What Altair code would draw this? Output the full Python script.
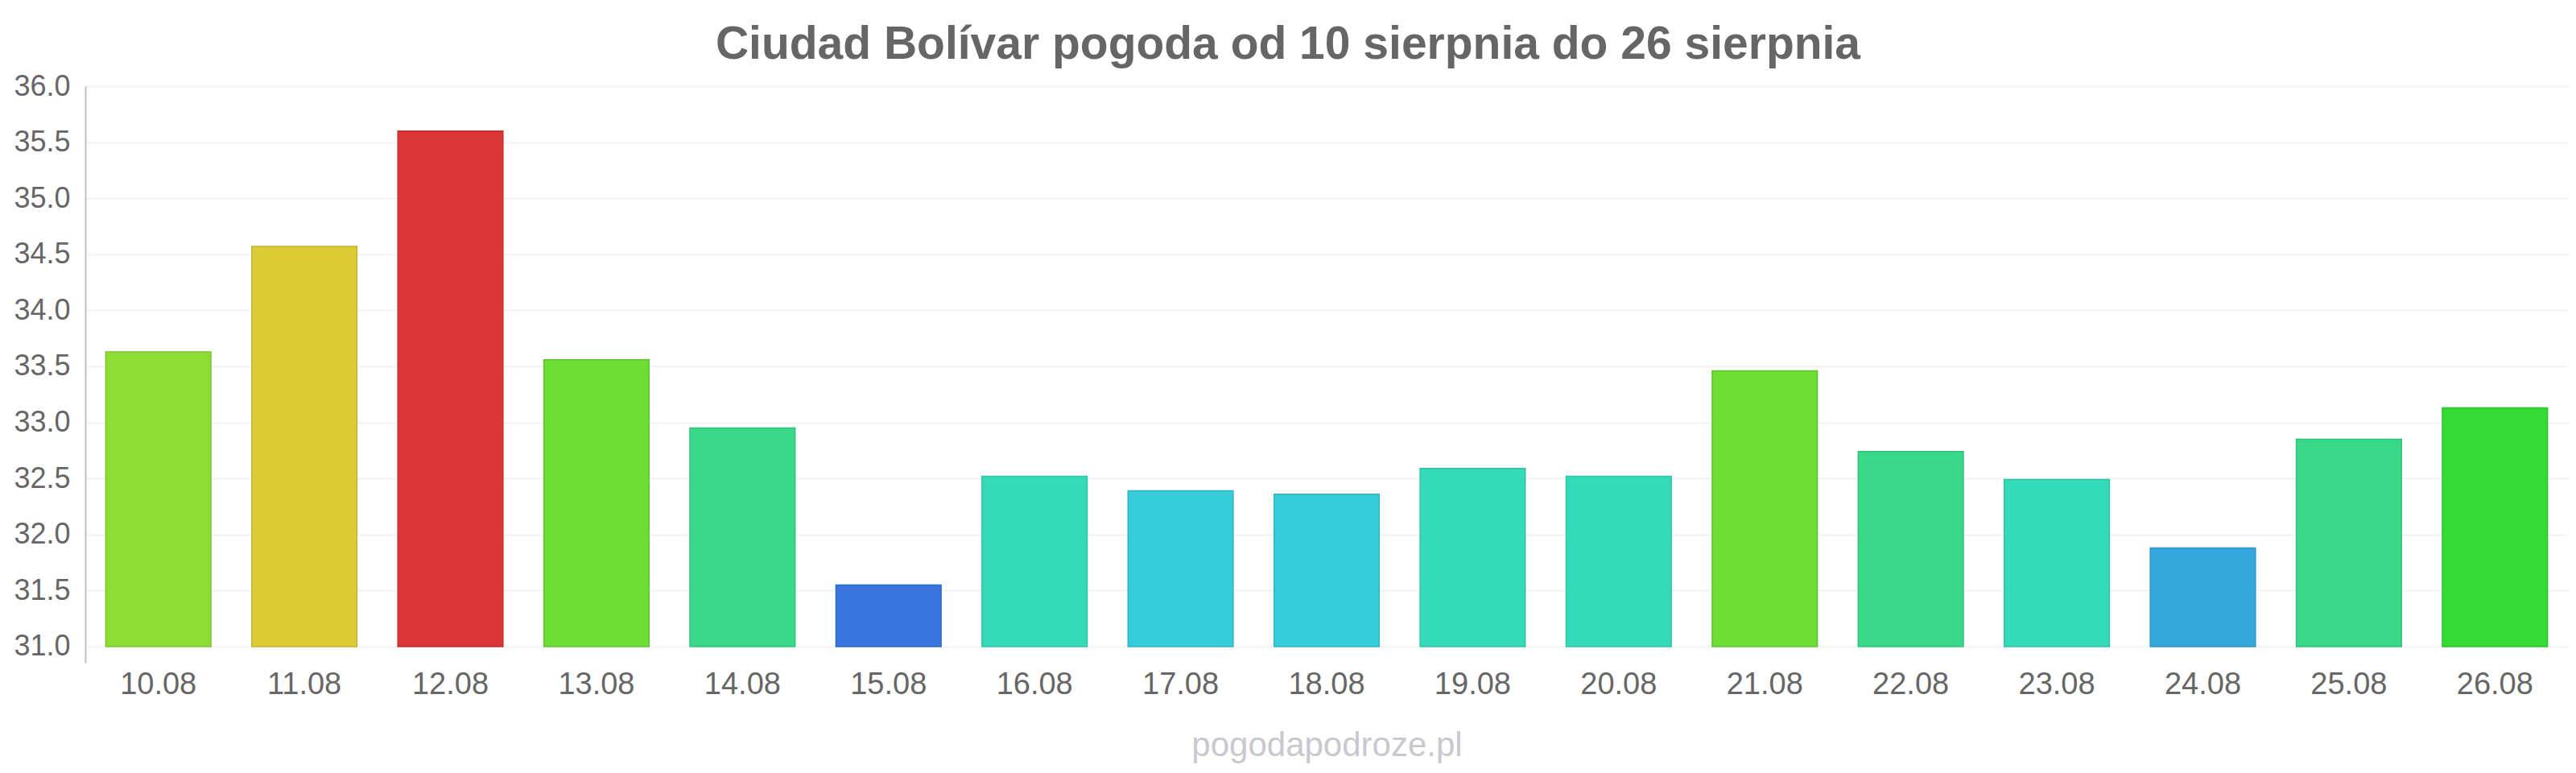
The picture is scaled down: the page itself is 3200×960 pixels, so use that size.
import altair as alt
import pandas as pd

dates = ["10.08", "11.08", "12.08", "13.08", "14.08", "15.08", "16.08", "17.08", "18.08",
         "19.08", "20.08", "21.08", "22.08", "23.08", "24.08", "25.08", "26.08"]
temps = [33.63, 34.57, 35.60, 33.56, 32.95, 31.55, 32.52, 32.39, 32.36,
         32.59, 32.52, 33.46, 32.74, 32.49, 31.88, 32.85, 33.13]
colors = ["#8ddd35", "#dbcc35", "#db3535", "#6bdd35", "#38da8a", "#3776db", "#35dbb8", "#35cdda", "#35cdda",
          "#35dbb8", "#35dbb8", "#6bdd35", "#38da8a", "#35dbb8", "#35a8db", "#38da8a", "#35db35"]
borders = ["#7cc42f", "#c2b42f", "#c22f2f", "#5ec42f", "#31c07a", "#3068c2", "#2fc2a3", "#2fb5c1", "#2fb5c1",
           "#2fc2a3", "#2fc2a3", "#5ec42f", "#31c07a", "#2fc2a3", "#2f95c2", "#31c07a", "#2fc22f"]
y_ticks = [31.0, 31.5, 32.0, 32.5, 33.0, 33.5, 34.0, 34.5, 35.0, 35.5, 36.0]
title_text = "Ciudad Bolívar pogoda od 10 sierpnia do 26 sierpnia"
watermark = "pogodapodroze.pl"

df = pd.DataFrame({"date": dates, "temp": temps})

bars = alt.Chart(df).mark_bar(strokeWidth=1.5).encode(
    x=alt.X("date:N", sort=dates,
            scale=alt.Scale(paddingInner=0.28, paddingOuter=0.14),
            axis=alt.Axis(title=watermark, labelAngle=0, domain=False, ticks=False, tickSize=0,
                          labelPadding=8, labelFontSize=38, labelColor="#666666", labelFont="Liberation Sans",
                          titleFont="Liberation Sans", titleFontSize=42, titleFontWeight="normal",
                          titleColor="#c8c8cf", titlePadding=36)),
    y=alt.Y("temp:Q", scale=alt.Scale(domain=[30.856, 36.0], nice=False, zero=False),
            axis=alt.Axis(title=None, values=y_ticks, format=".1f", ticks=False, tickSize=0,
                          labelPadding=19, labelFontSize=36, labelColor="#666666", labelFont="Liberation Sans",
                          domain=True, domainColor="#c0c0c0", domainWidth=2,
                          grid=True, gridColor="#f2f2f2", gridWidth=2)),
    y2=alt.datum(31.0),
    color=alt.Color("date:N", scale=alt.Scale(domain=dates, range=colors), legend=None),
    stroke=alt.Stroke("date:N", scale=alt.Scale(domain=dates, range=borders), legend=None),
)

chart = bars.properties(
    width=3084,
    height=716,
    autosize="none",
    background="white",
    padding={"left": 98, "top": 99, "right": 2, "bottom": 129},
    title=alt.TitleParams(title_text, anchor="middle", dx=-48, fontSize=57, fontWeight="bold",
                          font="Liberation Sans", color="#666666", offset=4),
).configure_view(stroke=None, strokeWidth=0)

chart.save("out.html", embed_options={"renderer": "svg", "actions": False})
